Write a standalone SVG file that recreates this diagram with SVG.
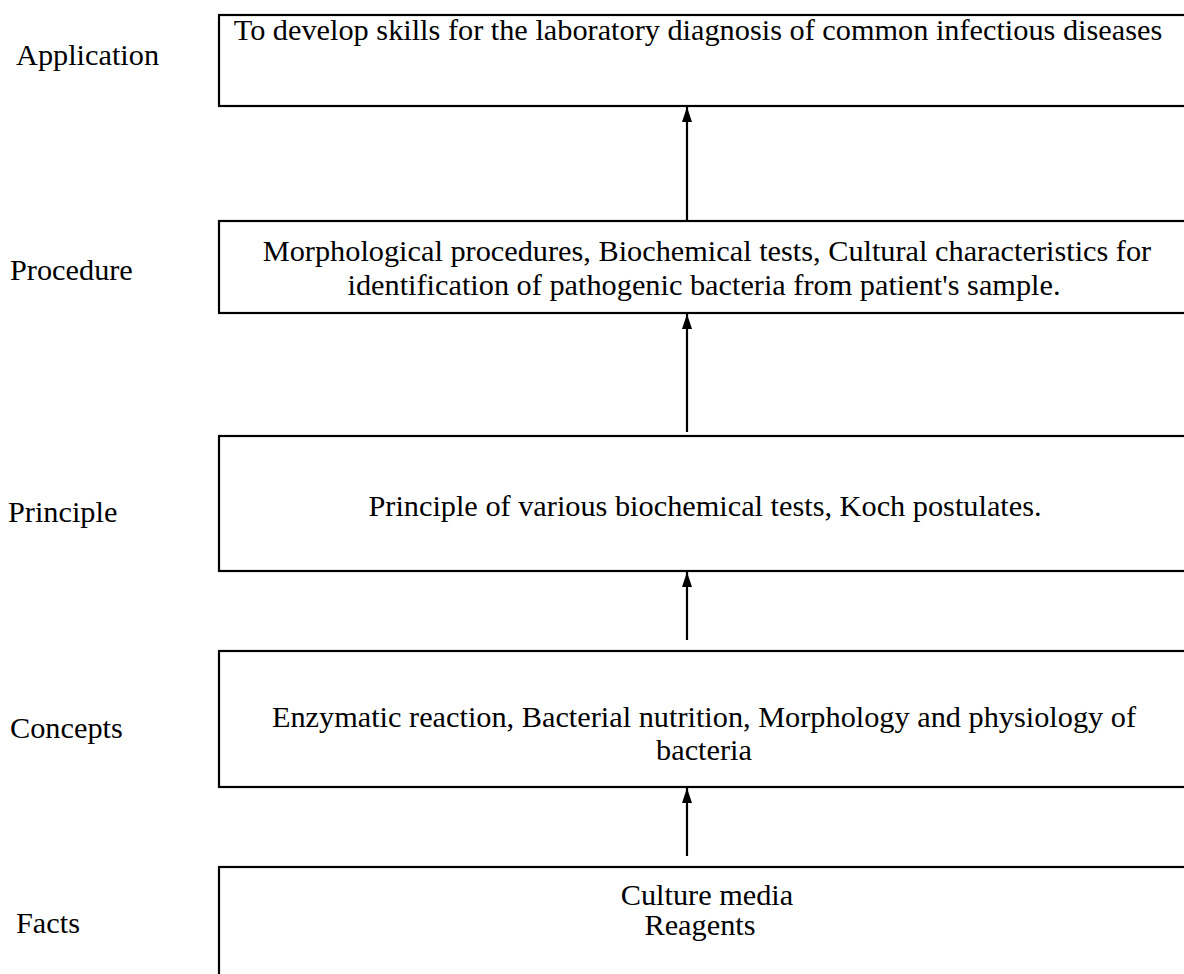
<svg xmlns="http://www.w3.org/2000/svg" width="1184" height="974" viewBox="0 0 1184 974">
  <style>
    .box { fill: #fff; stroke: #000; stroke-width: 2.2; }
    .txt { font-family: "Liberation Serif", "Times New Roman", serif; font-size: 30.3px; fill: #000; }
    .mid { text-anchor: middle; }
    .link { stroke: #000; stroke-width: 2.2; fill: none; marker-end: url(#head); }
  </style>
  <defs>
    <marker id="head" markerUnits="userSpaceOnUse" markerWidth="15" markerHeight="10" refX="15" refY="5" viewBox="0 0 15 10" orient="auto">
      <path d="M0,0 L15,5 L0,10 Z" fill="#000"/>
    </marker>
  </defs>
  <rect width="1184" height="974" fill="#fff"/>

  <!-- level labels -->
  <g id="labels">
    <text class="txt" x="16" y="65">Application</text>
    <text class="txt" x="10" y="280">Procedure</text>
    <text class="txt" x="8" y="522">Principle</text>
    <text class="txt" x="10" y="738">Concepts</text>
    <text class="txt" x="16" y="933">Facts</text>
  </g>

  <g id="application">
    <rect class="box" x="219" y="15" width="980" height="91"/>
    <text class="txt mid" x="698" y="40">To develop skills for the laboratory diagnosis of common infectious diseases</text>
  </g>

  <g id="procedure">
    <rect class="box" x="219" y="221" width="980" height="92"/>
    <text class="txt mid" x="707" y="261">Morphological procedures, Biochemical tests, Cultural characteristics for</text>
    <text class="txt mid" x="704" y="295">identification of pathogenic bacteria from patient's sample.</text>
  </g>

  <g id="principle">
    <rect class="box" x="219" y="436" width="980" height="135"/>
    <text class="txt mid" x="705" y="516">Principle of various biochemical tests, Koch postulates.</text>
  </g>

  <g id="concepts">
    <rect class="box" x="219" y="651" width="980" height="136"/>
    <text class="txt mid" x="704" y="727">Enzymatic reaction, Bacterial nutrition, Morphology and physiology of</text>
    <text class="txt mid" x="704" y="760">bacteria</text>
  </g>

  <g id="facts">
    <rect class="box" x="219" y="867" width="980" height="130"/>
    <text class="txt mid" x="707" y="905">Culture media</text>
    <text class="txt mid" x="700" y="935">Reagents</text>
  </g>

  <g id="connectors">
    <line class="link" x1="687" y1="220" x2="687" y2="107"/>
    <line class="link" x1="687" y1="432" x2="687" y2="314"/>
    <line class="link" x1="687" y1="640" x2="687" y2="572"/>
    <line class="link" x1="687" y1="856" x2="687" y2="788"/>
  </g>
</svg>
